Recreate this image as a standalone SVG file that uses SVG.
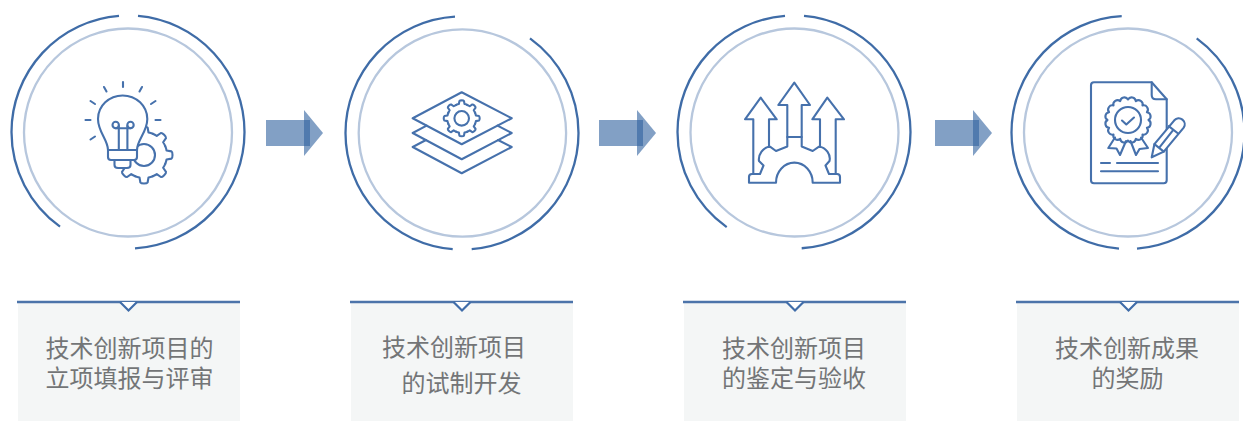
<svg xmlns="http://www.w3.org/2000/svg" xmlns:xlink="http://www.w3.org/1999/xlink" width="1243" height="421" viewBox="0 0 1243 421">
<style>
.o{fill:none;stroke:#2f609f;stroke-width:2.3;stroke-opacity:.92}
.i{fill:none;stroke:#b7c7dd;stroke-width:2.3}
.ic{fill:none;stroke:#4671ac;stroke-width:2.1;stroke-linejoin:round;stroke-linecap:round}
.w{fill:#fff}
.ar{fill:#2f609f;fill-opacity:.6}
.card{fill:#f4f6f6}
.bar{fill:none;stroke:#4c74aa;stroke-width:2.4}
.nt{fill:#fff;stroke:#3f6ca9;stroke-width:2.2}
.t{font-family:"Noto Sans CJK SC","Noto Sans",sans-serif;font-size:24px;fill:#737577;text-anchor:middle}
</style>
<defs>
<path id="sl" vector-effect="non-scaling-stroke" d="M21.25-8.8A23 23 0 0 1 22.55-4.5L27.5-3.6Q28.500-3 28.500 0Q28.500 3 27.500 3.600L22.55 4.5A23 23 0 0 1 21.25 8.8"/>
<g id="gear">
<use xlink:href="#sl"/>
<use xlink:href="#sl" transform="rotate(45)"/>
<use xlink:href="#sl" transform="rotate(90)"/>
<use xlink:href="#sl" transform="rotate(135)"/>
<use xlink:href="#sl" transform="rotate(180)"/>
<use xlink:href="#sl" transform="rotate(225)"/>
<use xlink:href="#sl" transform="rotate(270)"/>
<use xlink:href="#sl" transform="rotate(315)"/>
</g>
</defs>

<g id="connectors">
<g><rect class="ar" x="266" y="120" width="44" height="26"/><path class="ar" d="M304 110L323 133L304 156Z"/></g>
<g><rect class="ar" x="599" y="120" width="44" height="26"/><path class="ar" d="M637 110L656 133L637 156Z"/></g>
<g><rect class="ar" x="935" y="120" width="44" height="26"/><path class="ar" d="M973 110L992 133L973 156Z"/></g>
</g>

<g id="node1">
<circle class="i" cx="128" cy="132.5" r="104"/>
<path class="o" d="M119 15.85A116.5 116.5 0 0 0 11.5 132A116.5 116.5 0 0 0 60 226.6"/>
<path class="o" d="M138 15.93A116.5 116.5 0 0 1 244.5 132A116.5 116.5 0 0 1 135 248.29"/>
<g class="ic">
<use xlink:href="#gear" transform="translate(144 155)" class="ic"/>
<circle cx="144" cy="155" r="11"/>
<path class="w" d="M108 150C108 140 98 132 98 119A24.6 23.5 0 0 1 147.300 119C147.300 132 137 140 137 150Z"/>
<path class="w" d="M108 150H137V157Q137 160 134 160H111Q108 160 108 157Z"/>
<path class="w" d="M114.500 160H130.500V165Q130.500 168 127 168H118Q114.500 168 114.500 165Z"/>
<circle cx="115.700" cy="125" r="3.200"/>
<circle cx="130.500" cy="125" r="3.200"/>
<path d="M118.800 126V150M127.400 126V150M115.700 128.200H130.500"/>
<path d="M123 82V87M104 87L106.500 91.500M142 87L139.500 91.500M90.500 101L95 104M155.500 101L151 104M85.500 120H90.500M155.500 120H160.500M90.500 139.500L95 136.500"/>
</g>
</g>

<g id="node2">
<circle class="i" cx="462.400" cy="133" r="103.700"/>
<path class="o" d="M455 16.710A116.500 116.500 0 0 0 345.500 133A116.500 116.500 0 0 0 452.700 249.130"/>
<path class="o" d="M530 38.400A116.500 116.500 0 0 1 578.500 133A116.500 116.500 0 0 1 471.700 249.100"/>
<g class="ic">
<path d="M426.600 125.600L412.700 133L461.700 159.300L511.700 133L497.500 125.600"/>
<path d="M426 140L412.700 147L461.700 173.300L511.700 147L498 140"/>
<path d="M412.700 118.300L461.700 92.300L511.700 118.300L461.700 144.300Z"/>
<use xlink:href="#gear" transform="translate(461.700 118.300) scale(.63)" class="ic"/>
<circle cx="461.700" cy="118.300" r="7.300"/>
</g>
</g>

<g id="node3">
<circle class="i" cx="794.500" cy="132.500" r="104"/>
<path class="o" d="M785 15.850A116.500 116.500 0 0 0 677.500 132A116.500 116.500 0 0 0 726.700 227.100"/>
<path class="o" d="M804 15.930A116.500 116.500 0 0 1 910.500 132A116.500 116.500 0 0 1 801.700 248.250"/>
<g class="ic">
<path d="M787.300 137V105H778.300L794.300 82.700L810 105H801.700V137Z"/>
<path d="M753.300 174V119.300H745L760.700 97.700L776.700 119.300H769V146.700"/>
<path d="M820 146.700V119.300H812.300L827.300 97.700L844 119.300H835.700V174"/>
<path d="M749 182.700V177Q749 174 752 174H760L763.500 165.500L759 161C758 155 763 147 770 146.700L776 151L787.300 146.500V137H801.700V146.500L812.700 151L819 146.700C826 147 831 155 829.500 161L825.500 165.500L829 174H837Q840 174 840 177V182.700H812.700A18.300 20 0 0 0 776 182.700Z"/>
</g>
</g>

<g id="node4">
<circle class="i" cx="1128" cy="132.500" r="104"/>
<path class="o" d="M1121.700 16.170A116.500 116.500 0 0 0 1011.500 132.500A116.500 116.500 0 0 0 1119 248.650"/>
<path class="o" d="M1196.700 38.420A116.500 116.500 0 0 1 1244.500 132.500A116.500 116.500 0 0 1 1137 248.650"/>
<g class="ic">
<path d="M1151.700 82.300H1094Q1091 82.300 1091 85.300V180.300Q1091 183.300 1094 183.300H1163.700Q1166.700 183.300 1166.700 180.300V99.300Z"/>
<path d="M1151.700 82.300V95Q1151.700 99.300 1156 99.300H1166.700"/>
<path transform="translate(1128 120)" d="M20.500 0A4.200 4.200 0 0 1 18.900 7.800A4.200 4.200 0 0 1 14.500 14.500A4.200 4.200 0 0 1 7.800 18.900A4.200 4.200 0 0 1 0 20.500A4.200 4.200 0 0 1-7.800 18.900A4.200 4.200 0 0 1-14.500 14.500A4.200 4.200 0 0 1-18.900 7.800A4.200 4.200 0 0 1-20.500 0A4.200 4.200 0 0 1-18.900-7.800A4.200 4.200 0 0 1-14.500-14.500A4.200 4.200 0 0 1-7.800-18.900A4.200 4.200 0 0 1 0-20.500A4.200 4.200 0 0 1 7.800-18.900A4.200 4.200 0 0 1 14.500-14.500A4.200 4.200 0 0 1 18.900-7.800A4.200 4.200 0 0 1 20.500 0Z"/>
<circle cx="1128" cy="120" r="13"/>
<path d="M1122 120.500L1126.300 124.500L1134 117.500"/>
<path d="M1115 137.500L1108.300 148L1116.500 148.500L1120 155L1126 141"/>
<path d="M1141 137.500L1148 148L1139.500 149L1136 155L1130.500 141"/>
<path d="M1101 163H1110M1117 163H1158M1101 171.300H1158"/>
<path class="w" d="M1154.400 144.200L1174.300 120.300A6 6 0 0 1 1183.700 127.700L1163.800 151.600L1151.700 157.300Z"/>
<path d="M1159.100 147.900L1172.900 130.400M1168.700 126.100L1178.100 133.500M1154.400 144.200L1163.800 151.600"/>
</g>
</g>

<g id="card1">
<rect class="card" x="18" y="302" width="222" height="119"/>
<path class="bar" d="M17 302H240"/>
<path class="nt" d="M120 302L128.500 310.500L137 302"/>
<text class="t" x="129.500" y="357">技术创新项目的</text>
<text class="t" x="129.500" y="387">立项填报与评审</text>
</g>
<g id="card2">
<rect class="card" x="351" y="302" width="222" height="119"/>
<path class="bar" d="M350 302H573"/>
<path class="nt" d="M453.500 302L462 310.500L470.500 302"/>
<text class="t" x="454" y="356">技术创新项目</text>
<text class="t" x="461.500" y="392">的试制开发</text>
</g>
<g id="card3">
<rect class="card" x="684" y="302" width="222" height="119"/>
<path class="bar" d="M683 302H906"/>
<path class="nt" d="M786.500 302L795 310.500L803.500 302"/>
<text class="t" x="794" y="357">技术创新项目</text>
<text class="t" x="794" y="387">的鉴定与验收</text>
</g>
<g id="card4">
<rect class="card" x="1017" y="302" width="222" height="119"/>
<path class="bar" d="M1016 302H1239"/>
<path class="nt" d="M1120 302L1128.500 310.500L1137 302"/>
<text class="t" x="1127" y="357">技术创新成果</text>
<text class="t" x="1127.500" y="387">的奖励</text>
</g>
</svg>
